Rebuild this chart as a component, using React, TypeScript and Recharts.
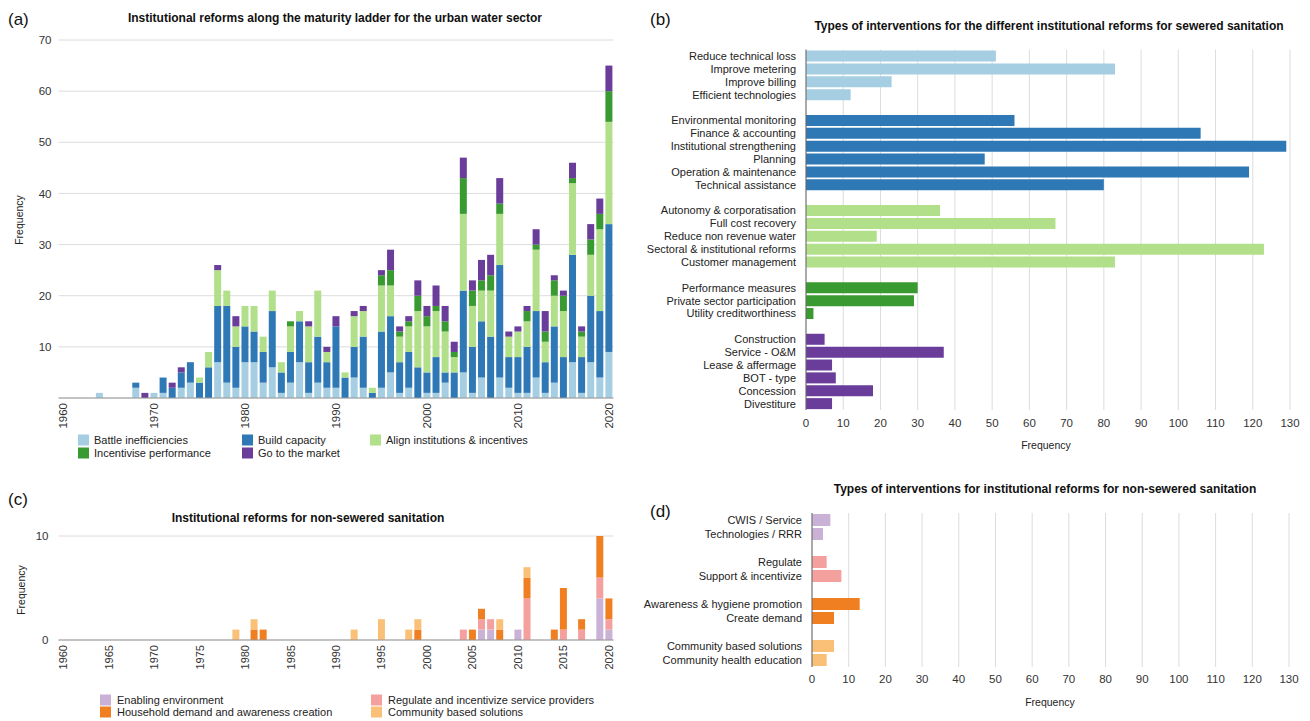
import React from "react";
import { BarChart, Bar, XAxis, YAxis, CartesianGrid, Cell } from "recharts";

const FONT = '"Liberation Sans", Arial, Helvetica, sans-serif';

const C = {
  lightBlue: "#a6cee3",
  blue: "#2f78b6",
  lightGreen: "#b2df8a",
  green: "#3a9a32",
  purple: "#6a3d9a",
  lilac: "#cab2d6",
  pink: "#f4a09f",
  orange: "#f07f22",
  lightOrange: "#fbc077",
};

// ---- (a) urban water sector, one value per year 1960..2020
const years = Array.from({ length: 61 }, (_, i) => String(1960 + i));
const battleInefficiencies = [
  0, 0, 0, 0, 1, 0, 0, 0, 2, 0, // 1960s
  1, 1, 0, 2, 3, 0, 0, 7, 3, 2, // 1970s
  7, 7, 3, 6, 1, 3, 7, 1, 3, 2, // 1980s
  2, 0, 4, 2, 0, 2, 5, 1, 2, 0, // 1990s
  1, 1, 3, 0, 5, 1, 4, 0, 4, 2, // 2000s
  1, 1, 4, 1, 3, 0, 7, 1, 7, 4, // 2010s
  9,
];
const buildCapacity = [
  0, 0, 0, 0, 0, 0, 0, 0, 1, 0,
  0, 3, 2, 3, 4, 3, 6, 11, 15, 8,
  7, 6, 6, 11, 4, 6, 8, 6, 9, 5,
  12, 4, 6, 10, 1, 11, 11, 6, 7, 6,
  4, 7, 2, 5, 16, 9, 11, 12, 22, 6,
  7, 9, 13, 6, 11, 8, 21, 7, 13, 13,
  25,
];
const alignInstitutions = [
  0, 0, 0, 0, 0, 0, 0, 0, 0, 0,
  0, 0, 0, 0, 0, 1, 3, 7, 3, 4,
  4, 5, 3, 4, 2, 5, 2, 7, 9, 2,
  0, 1, 6, 5, 1, 9, 6, 5, 5, 11,
  9, 9, 8, 3, 15, 8, 6, 9, 10, 4,
  5, 5, 12, 4, 6, 9, 14, 4, 8, 16,
  20,
];
const incentivisePerformance = [
  0, 0, 0, 0, 0, 0, 0, 0, 0, 0,
  0, 0, 0, 0, 0, 0, 0, 0, 0, 0,
  0, 0, 0, 0, 0, 1, 0, 0, 0, 0,
  0, 0, 0, 0, 0, 2, 3, 1, 1, 3,
  2, 1, 2, 1, 7, 3, 2, 3, 2, 0,
  0, 2, 1, 2, 3, 3, 1, 1, 3, 3,
  6,
];
const goToMarket = [
  0, 0, 0, 0, 0, 0, 0, 0, 0, 1,
  0, 0, 1, 1, 0, 0, 0, 1, 0, 2,
  0, 0, 0, 0, 0, 0, 0, 1, 0, 1,
  2, 0, 1, 1, 0, 1, 4, 1, 1, 3,
  2, 4, 3, 2, 4, 2, 4, 4, 5, 1,
  1, 1, 3, 4, 1, 1, 3, 1, 3, 3,
  5,
];

const waterSeries = [
  { key: "battle", name: "Battle inefficiencies", values: battleInefficiencies, color: C.lightBlue },
  { key: "build", name: "Build capacity", values: buildCapacity, color: C.blue },
  { key: "align", name: "Align institutions & incentives", values: alignInstitutions, color: C.lightGreen },
  { key: "incent", name: "Incentivise performance", values: incentivisePerformance, color: C.green },
  { key: "market", name: "Go to the market", values: goToMarket, color: C.purple },
];
const waterData = years.map((year, i) => {
  const row: any = { year };
  waterSeries.forEach((s) => (row[s.key] = s.values[i]));
  return row;
});

// ---- (b) sewered sanitation interventions
const battleLabels = ["Reduce technical loss", "Improve metering", "Improve billing", "Efficient technologies"];
const battleValues = [51, 83, 23, 12];
const buildLabels = ["Environmental monitoring", "Finance & accounting", "Institutional strengthening", "Planning", "Operation & maintenance", "Technical assistance"];
const buildValues = [56, 106, 129, 48, 119, 80];
const alignLabels = ["Autonomy & corporatisation", "Full cost recovery", "Reduce non revenue water", "Sectoral & institutional reforms", "Customer management"];
const alignValues = [36, 67, 19, 123, 83];
const incentLabels = ["Performance measures", "Private sector participation", "Utility creditworthiness"];
const incentValues = [30, 29, 2];
const marketLabels = ["Construction", "Service - O&M", "Lease & affermage", "BOT - type", "Concession", "Divestiture"];
const marketValues = [5, 37, 7, 8, 18, 7];

// ---- (c) non-sewered sanitation, per year 1960..2020
const enablingEnv = [
  0, 0, 0, 0, 0, 0, 0, 0, 0, 0,
  0, 0, 0, 0, 0, 0, 0, 0, 0, 0,
  0, 0, 0, 0, 0, 0, 0, 0, 0, 0,
  0, 0, 0, 0, 0, 0, 0, 0, 0, 0,
  0, 0, 0, 0, 0, 0, 1, 1, 0, 0,
  1, 0, 0, 0, 0, 0, 0, 0, 0, 4,
  1,
];
const regulateProviders = [
  0, 0, 0, 0, 0, 0, 0, 0, 0, 0,
  0, 0, 0, 0, 0, 0, 0, 0, 0, 0,
  0, 0, 0, 0, 0, 0, 0, 0, 0, 0,
  0, 0, 0, 0, 0, 0, 0, 0, 0, 0,
  0, 0, 0, 0, 1, 0, 1, 1, 0, 0,
  0, 4, 0, 0, 0, 1, 0, 1, 0, 2,
  1,
];
const householdDemand = [
  0, 0, 0, 0, 0, 0, 0, 0, 0, 0,
  0, 0, 0, 0, 0, 0, 0, 0, 0, 0,
  0, 1, 1, 0, 0, 0, 0, 0, 0, 0,
  0, 0, 0, 0, 0, 0, 0, 0, 0, 1,
  0, 0, 0, 0, 0, 1, 1, 0, 1, 0,
  0, 2, 0, 0, 1, 4, 0, 1, 0, 4,
  2,
];
const communitySolutions = [
  0, 0, 0, 0, 0, 0, 0, 0, 0, 0,
  0, 0, 0, 0, 0, 0, 0, 0, 0, 1,
  0, 1, 0, 0, 0, 0, 0, 0, 0, 0,
  0, 0, 1, 0, 0, 2, 0, 0, 1, 1,
  0, 0, 0, 0, 0, 0, 0, 0, 1, 0,
  0, 1, 0, 0, 0, 0, 0, 0, 0, 0,
  0,
];
const sanitationSeries = [
  { key: "enabling", name: "Enabling environment", values: enablingEnv, color: C.lilac },
  { key: "regulate", name: "Regulate and incentivize service providers", values: regulateProviders, color: C.pink },
  { key: "household", name: "Household demand and awareness creation", values: householdDemand, color: C.orange },
  { key: "community", name: "Community based solutions", values: communitySolutions, color: C.lightOrange },
];
const sanitationData = years.map((year, i) => {
  const row: any = { year };
  sanitationSeries.forEach((s) => (row[s.key] = s.values[i]));
  return row;
});

// ---- (d) non-sewered interventions
const enablingLabels = ["CWIS / Service", "Technologies / RRR"];
const enablingValues = [5, 3];
const regulateLabels = ["Regulate", "Support & incentivize"];
const regulateValues = [4, 8];
const demandLabels = ["Awareness & hygiene promotion", "Create demand"];
const demandValues = [13, 6];
const communityLabels = ["Community based solutions", "Community health education"];
const communityValues = [6, 4];

const freqTicks = [0, 10, 20, 30, 40, 50, 60, 70, 80, 90, 100, 110, 120, 130];

function groupedRows(groups: { labels: string[]; values: number[]; color: string }[]) {
  const rows: any[] = [];
  groups.forEach((g, gi) => {
    if (gi > 0) rows.push({ name: `gap${gi}`, value: null, color: "none" });
    g.labels.forEach((l, i) => rows.push({ name: l, value: g.values[i], color: g.color }));
  });
  return rows;
}

const sewerRows = groupedRows([
  { labels: battleLabels, values: battleValues, color: C.lightBlue },
  { labels: buildLabels, values: buildValues, color: C.blue },
  { labels: alignLabels, values: alignValues, color: C.lightGreen },
  { labels: incentLabels, values: incentValues, color: C.green },
  { labels: marketLabels, values: marketValues, color: C.purple },
]);
const nonSewerRows = groupedRows([
  { labels: enablingLabels, values: enablingValues, color: C.lilac },
  { labels: regulateLabels, values: regulateValues, color: C.pink },
  { labels: demandLabels, values: demandValues, color: C.orange },
  { labels: communityLabels, values: communityValues, color: C.lightOrange },
]);

function YearTick(props: any) {
  const { x, y, payload, size } = props;
  return (
    <text
      x={x}
      y={y}
      transform={`rotate(-90 ${x} ${y})`}
      textAnchor="end"
      dominantBaseline="central"
      fontSize={size}
      fill="#333"
      fontFamily={FONT}
    >
      {payload.value}
    </text>
  );
}

// single-line category label, blank for the spacer rows between groups
function CategoryTick(props: any) {
  const { x, y, payload, size } = props;
  const v = String(payload.value);
  if (v.startsWith("gap")) return null;
  return (
    <text x={x} y={y} textAnchor="end" dominantBaseline="central" fontSize={size} fill="#222" fontFamily={FONT}>
      {v}
    </text>
  );
}

export default function App() {
  const tickStyle = { fontSize: 11.5, fill: "#333", fontFamily: FONT };

  return (
    <div style={{ position: "absolute", left: 0, top: 0, width: 1310, height: 721, background: "#fff", fontFamily: FONT }}>
      {/* (a) */}
      <div style={{ position: "absolute", left: 0, top: 0 }}>
        <BarChart width={640} height={470} data={waterData} margin={{ top: 40, right: 26.5, bottom: 42, left: 0 }}>
          <CartesianGrid vertical={false} stroke="#dcdcdc" />
          <XAxis dataKey="year" interval={9} tick={<YearTick size={11.5} />} tickLine={false} tickSize={0} tickMargin={5} height={30} stroke="#999" />
          <YAxis domain={[0, 70]} ticks={[10, 20, 30, 40, 50, 60, 70]} axisLine={false} tickLine={false} tickSize={0} tickMargin={7} width={58.5} tick={tickStyle} />
          {waterSeries.map((s) => (
            <Bar key={s.key} dataKey={s.key} stackId="a" fill={s.color} barSize={7} isAnimationActive={false} />
          ))}
        </BarChart>
      </div>

      {/* (b) */}
      <div style={{ position: "absolute", left: 640, top: 0 }}>
        <BarChart width={670} height={470} data={sewerRows} layout="vertical" margin={{ top: 49.6, right: 20, bottom: 14, left: 0 }}>
          <CartesianGrid horizontal={false} stroke="#dcdcdc" />
          <XAxis type="number" domain={[0, 130]} ticks={freqTicks} axisLine={false} tickLine={false} tickSize={0} tickMargin={9} height={46} tick={tickStyle} />
          <YAxis type="category" dataKey="name" width={166} interval={0} tickLine={false} tickSize={0} tickMargin={10} stroke="#666" tick={<CategoryTick size={11} />} />
          <Bar dataKey="value" barSize={11} isAnimationActive={false}>
            {sewerRows.map((r, i) => (
              <Cell key={`b-${i}`} fill={r.color} />
            ))}
          </Bar>
        </BarChart>
      </div>

      {/* (c) */}
      <div style={{ position: "absolute", left: 0, top: 470 }}>
        <BarChart width={640} height={251} data={sanitationData} margin={{ top: 66, right: 26.5, bottom: 51, left: 0 }}>
          <CartesianGrid vertical={false} stroke="#dcdcdc" />
          <XAxis dataKey="year" interval={4} tick={<YearTick size={11} />} tickLine={false} tickSize={0} tickMargin={5} height={30} stroke="#999" />
          <YAxis domain={[0, 10]} ticks={[0, 10]} axisLine={false} tickLine={false} tickSize={0} tickMargin={10} width={58.5} tick={tickStyle} />
          {sanitationSeries.map((s) => (
            <Bar key={s.key} dataKey={s.key} stackId="c" fill={s.color} barSize={7} isAnimationActive={false} />
          ))}
        </BarChart>
      </div>

      {/* (d) */}
      <div style={{ position: "absolute", left: 640, top: 470 }}>
        <BarChart width={670} height={251} data={nonSewerRows} layout="vertical" margin={{ top: 43, right: 21, bottom: 14, left: 0 }}>
          <CartesianGrid horizontal={false} stroke="#dcdcdc" />
          <XAxis type="number" domain={[0, 130]} ticks={freqTicks} axisLine={false} tickLine={false} tickSize={0} tickMargin={8} height={40} tick={tickStyle} />
          <YAxis type="category" dataKey="name" width={172} interval={0} tickLine={false} tickSize={0} tickMargin={10} stroke="#666" tick={<CategoryTick size={11} />} />
          <Bar dataKey="value" barSize={12} isAnimationActive={false}>
            {nonSewerRows.map((r, i) => (
              <Cell key={`d-${i}`} fill={r.color} />
            ))}
          </Bar>
        </BarChart>
      </div>

      {/* titles, panel letters, axis names, legends */}
      <svg width={1310} height={721} style={{ position: "absolute", left: 0, top: 0, pointerEvents: "none" }} fontFamily={FONT}>
        <text x={8} y={25} fontSize={17} fill="#111">(a)</text>
        <text x={650} y={25} fontSize={17} fill="#111">(b)</text>
        <text x={8} y={505} fontSize={17} fill="#111">(c)</text>
        <text x={650} y={517} fontSize={17} fill="#111">(d)</text>

        <text x={335} y={22} fontSize={12} fontWeight="bold" textAnchor="middle" fill="#111">
          Institutional reforms along the maturity ladder for the urban water sector
        </text>
        <text x={1049} y={30} fontSize={12} fontWeight="bold" textAnchor="middle" fill="#111">
          Types of interventions for the different institutional reforms for sewered sanitation
        </text>
        <text x={308} y={522} fontSize={12} fontWeight="bold" textAnchor="middle" fill="#111">
          Institutional reforms for non-sewered sanitation
        </text>
        <text x={1045} y={493} fontSize={12} fontWeight="bold" textAnchor="middle" fill="#111">
          Types of interventions for institutional reforms for non-sewered sanitation
        </text>

        <text x={23} y={220} fontSize={10.5} textAnchor="middle" fill="#222" transform="rotate(-90 23 220)">Frequency</text>
        <text x={25} y={590} fontSize={10.5} textAnchor="middle" fill="#222" transform="rotate(-90 25 590)">Frequency</text>
        <text x={1046} y={449} fontSize={10.5} textAnchor="middle" fill="#222">Frequency</text>
        <text x={1050} y={706} fontSize={10.5} textAnchor="middle" fill="#222">Frequency</text>

        {waterSeries.map((s, i) => {
          const cols = [78, 242, 370];
          const x = cols[i % 3];
          const y = i < 3 ? 440 : 453;
          return (
            <g key={s.key}>
              <rect x={x} y={y - 5.5} width={11} height={11} fill={s.color} />
              <text x={x + 16} y={y + 4} fontSize={11} fill="#222">{s.name}</text>
            </g>
          );
        })}
        {sanitationSeries.map((s, i) => {
          const cols = [100, 371];
          const x = cols[i % 2];
          const y = i < 2 ? 700 : 712;
          return (
            <g key={s.key}>
              <rect x={x} y={y - 5.5} width={11} height={11} fill={s.color} />
              <text x={x + 17} y={y + 4} fontSize={11} fill="#222">{s.name}</text>
            </g>
          );
        })}
      </svg>
    </div>
  );
}
